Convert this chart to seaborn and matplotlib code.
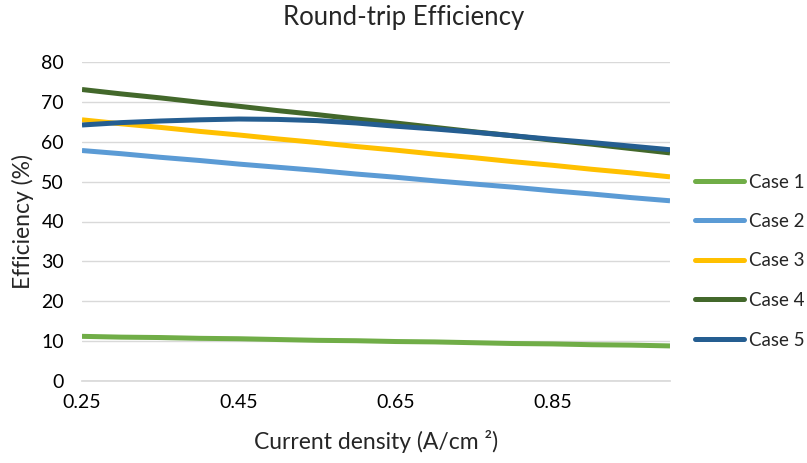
import matplotlib
matplotlib.use("Agg")
import matplotlib.pyplot as plt
from matplotlib.lines import Line2D
import seaborn as sns
import pandas as pd

x_vals = [0.25, 0.30, 0.35, 0.40, 0.45, 0.50, 0.55, 0.60,
          0.65, 0.70, 0.75, 0.80, 0.85, 0.90, 0.95, 1.00]
case1 = [11.2, 11.0, 10.9, 10.7, 10.6, 10.4, 10.2, 10.1, 9.9, 9.8, 9.6, 9.4, 9.3, 9.1, 9.0, 8.8]
case2 = [57.8, 57.0, 56.1, 55.3, 54.4, 53.6, 52.8, 51.9, 51.1, 50.2, 49.4, 48.6, 47.7, 46.9, 46.0, 45.2]
case3 = [65.5, 64.5, 63.6, 62.6, 61.7, 60.7, 59.8, 58.8, 57.9, 56.9, 56.0, 55.0, 54.1, 53.1, 52.2, 51.2]
case4 = [73.1, 72.0, 71.0, 69.9, 68.9, 67.8, 66.8, 65.7, 64.7, 63.6, 62.5, 61.5, 60.4, 59.4, 58.3, 57.2]
case5 = [64.2, 64.8, 65.2, 65.5, 65.7, 65.6, 65.3, 64.7, 63.9, 63.2, 62.4, 61.5, 60.6, 59.8, 58.9, 58.0]
case_names = ["Case 1", "Case 2", "Case 3", "Case 4", "Case 5"]
x_ticks = [0.25, 0.45, 0.65, 0.85]
y_ticks = [0, 10, 20, 30, 40, 50, 60, 70, 80]

colors = ["#70AD47", "#5B9BD5", "#FFC000", "#43682B", "#255E91"]

rows = []
for name, vals in zip(case_names, [case1, case2, case3, case4, case5]):
    for xv, yv in zip(x_vals, vals):
        rows.append({"x": xv, "y": yv, "Case": name})
df = pd.DataFrame(rows)

sns.set_theme(style="white")
plt.rcParams["font.family"] = ["Lato", "DejaVu Sans"]

fig = plt.figure(figsize=(8.07, 4.63), dpi=100)
ax = fig.add_axes([82/807, 1-381/463, (670-82)/807, (381-62)/463])

sns.lineplot(data=df, x="x", y="y", hue="Case", palette=colors, linewidth=3.6,
             ax=ax, legend=False, solid_capstyle="butt", solid_joinstyle="round")

ax.set_xlim(0.25, 1.0)
ax.set_ylim(0, 80)
ax.set_xticks(x_ticks)
ax.set_xticklabels([f"{t:.2f}" for t in x_ticks])
ax.set_yticks(y_ticks)
ax.yaxis.grid(True, color="#D9D9D9", linewidth=1.0)
ax.set_axisbelow(True)
for s in ["top", "right", "left"]:
    ax.spines[s].set_visible(False)
ax.spines["bottom"].set_color("#D9D9D9")
ax.tick_params(axis="both", length=0, labelsize=14, colors="#000000")
ax.tick_params(axis="y", pad=13)
ax.tick_params(axis="x", pad=9)

ax.set_xlabel("Current density (A/cm ²)", fontsize=16.5, labelpad=14)
ax.set_ylabel("Efficiency (%)", fontsize=16.5, labelpad=5)
fig.text(0.5, 1-17/463, "Round-trip Efficiency", fontsize=18.5, ha="center", va="center")

handles = [Line2D([0], [0], color=c, linewidth=3.6) for c in colors]
fig.legend(handles, case_names, loc="center left", bbox_to_anchor=(695/807, 1-261/463),
           frameon=False, fontsize=13.5, handlelength=2.6, handletextpad=0.3,
           labelspacing=1.2, borderpad=0, borderaxespad=0)

fig.savefig("out.png", dpi=100)
